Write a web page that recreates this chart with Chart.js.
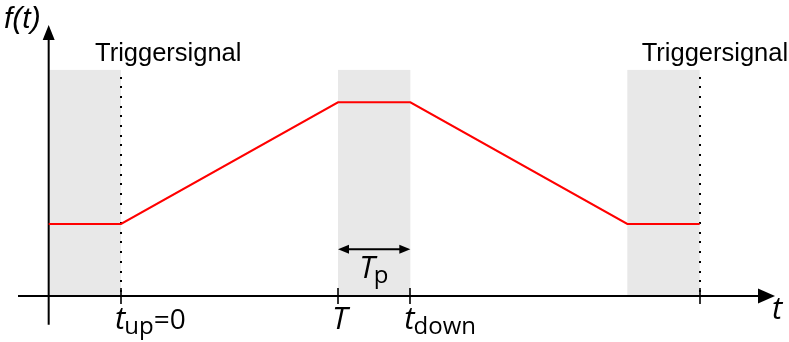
<!DOCTYPE html>
<html>
<head>
<meta charset="utf-8">
<script src="https://cdn.jsdelivr.net/npm/chart.js@4"></script>
<style>
  html, body { margin: 0; padding: 0; background: #fff; }
  canvas { display: block; }
</style>
</head>
<body>
<canvas id="chart" width="789" height="342"></canvas>
<script>
// trapezoid profile f(t): hold, ramp up, hold for Tp, ramp down, hold
const signalTimes = [-1, 0, 3, 4, 7, 8];
const signalValues = [1, 1, 2.69, 2.69, 1, 1];

// grey windows (trigger / pulse intervals)
const shadeStarts = [-1, 3, 7];
const shadeEnds = [0, 4, 8];
const shadeTop = 3.14;

// dotted trigger lines and their captions
const triggerTimes = [0, 8];
const triggerLabels = ['Triggersignal', 'Triggersignal'];

// ticks on the t axis: main letter, subscript, suffix
const tickTimes = [0, 3, 4, 8];
const tickMain = ['t', 'T', 't', ''];
const tickSub = ['up', '', 'down', ''];
const tickSuffix = ['=0', '', '', ''];

// Tp marker spans the pulse window
const pulseStart = 3;
const pulseEnd = 4;
const pulseLevel = 0.65;

const FONT = '"Liberation Sans", Arial, sans-serif';
const MATH = '"Open Sans", "Liberation Sans", sans-serif';

function arrowHead(ctx, x, y, dx, dy, len, half) {
  // tip at (x, y), pointing along (dx, dy)
  const px = -dy, py = dx;
  ctx.beginPath();
  ctx.moveTo(x, y);
  ctx.lineTo(x - dx * len + px * half, y - dy * len + py * half);
  ctx.lineTo(x - dx * len - px * half, y - dy * len - py * half);
  ctx.closePath();
  ctx.fill();
}

function subText(ctx, x, y, main, sub, suffix) {
  ctx.textBaseline = 'alphabetic';
  ctx.textAlign = 'left';
  ctx.font = 'italic 31px ' + MATH;
  ctx.fillText(main, x, y);
  let cx = x + ctx.measureText(main).width;
  if (sub) {
    ctx.font = '24px ' + MATH;
    ctx.fillText(sub, cx - 1, y + 5);
    cx += ctx.measureText(sub).width - 1;
  }
  if (suffix) {
    ctx.font = '28px ' + MATH;
    ctx.fillText(suffix, cx, y);
  }
}

const diagram = {
  id: 'diagram',
  beforeDatasetsDraw(chart) {
    const ctx = chart.ctx;
    const xs = chart.scales.x, ys = chart.scales.y;
    const y0 = ys.getPixelForValue(0);
    const x0 = xs.getPixelForValue(-1);
    ctx.save();

    // shaded windows
    ctx.fillStyle = '#e8e8e8';
    shadeStarts.forEach((s, i) => {
      const l = xs.getPixelForValue(s), r = xs.getPixelForValue(shadeEnds[i]);
      const t = ys.getPixelForValue(shadeTop);
      ctx.fillRect(l, t, r - l, y0 - t);
    });

    // dotted trigger lines
    ctx.fillStyle = '#000';
    triggerTimes.forEach(tt => {
      const x = Math.round(xs.getPixelForValue(tt));
      const top = ys.getPixelForValue(shadeTop);
      for (let y = y0 - 6; y > top; y -= 9.7) {
        ctx.fillRect(x - 1, Math.round(y), 2, 2);
      }
    });

    // axes
    ctx.strokeStyle = '#000';
    ctx.lineWidth = 2;
    ctx.beginPath();
    ctx.moveTo(18, y0);
    ctx.lineTo(760, y0);
    ctx.moveTo(x0, ys.getPixelForValue(-0.4));
    ctx.lineTo(x0, 40);
    ctx.stroke();
    arrowHead(ctx, 775, y0, 1, 0, 17, 7.5);
    arrowHead(ctx, x0, 25, 0, -1, 15, 6);

    // ticks
    ctx.lineWidth = 1.6;
    ctx.beginPath();
    tickTimes.forEach(tt => {
      const x = Math.round(xs.getPixelForValue(tt));
      ctx.moveTo(x, y0 - 8);
      ctx.lineTo(x, y0 + 8);
    });
    ctx.stroke();

    // Tp double arrow
    const pl = xs.getPixelForValue(pulseStart), pr = xs.getPixelForValue(pulseEnd);
    const py = ys.getPixelForValue(pulseLevel);
    ctx.lineWidth = 2;
    ctx.beginPath();
    ctx.moveTo(pl + 6, py);
    ctx.lineTo(pr - 6, py);
    ctx.stroke();
    arrowHead(ctx, pl, py, -1, 0, 11, 4.5);
    arrowHead(ctx, pr, py, 1, 0, 11, 4.5);
    ctx.restore();
  },
  afterDraw(chart) {
    const ctx = chart.ctx;
    const xs = chart.scales.x, ys = chart.scales.y;
    const y0 = ys.getPixelForValue(0);
    ctx.save();
    ctx.fillStyle = '#000';

    // trigger captions
    ctx.font = '25.5px ' + FONT;
    ctx.textBaseline = 'alphabetic';
    triggerLabels.forEach((lab, i) => {
      const x = xs.getPixelForValue(triggerTimes[i]);
      const off = i === 0 ? -26 : -58;
      ctx.fillText(lab, x + off, 61);
    });

    // axis names
    ctx.font = 'italic 30px ' + FONT;
    ctx.fillText('f(t)', 4, 28);
    ctx.font = 'italic 31px ' + MATH;
    ctx.fillText('t', 772, y0 + 23);

    // tick labels
    tickTimes.forEach((tt, i) => {
      if (!tickMain[i]) return;
      const x = xs.getPixelForValue(tt);
      subText(ctx, x - 6, y0 + 33, tickMain[i], tickSub[i], tickSuffix[i]);
    });

    // Tp label
    const pm = (xs.getPixelForValue(pulseStart) + xs.getPixelForValue(pulseEnd)) / 2;
    subText(ctx, pm - 15, ys.getPixelForValue(pulseLevel) + 29, 'T', 'p', '');
    ctx.restore();
  }
};

new Chart(document.getElementById('chart').getContext('2d'), {
  type: 'scatter',
  data: {
    datasets: [{
      data: signalTimes.map((t, i) => ({ x: t, y: signalValues[i] })),
      showLine: true,
      borderColor: '#ff0000',
      borderWidth: 2,
      pointRadius: 0,
      tension: 0
    }]
  },
  options: {
    responsive: false,
    animation: false,
    devicePixelRatio: 1,
    layout: { padding: 0 },
    plugins: { legend: { display: false }, tooltip: { enabled: false } },
    scales: {
      x: { type: 'linear', min: -1.673, max: 9.235, display: false },
      y: { type: 'linear', min: -0.639, max: 4.111, display: false }
    }
  },
  plugins: [diagram]
});
</script>
</body>
</html>
